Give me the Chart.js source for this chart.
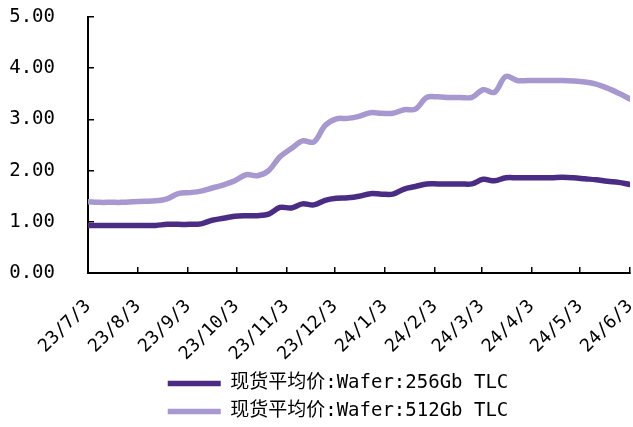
<!DOCTYPE html>
<html>
<head>
<meta charset="utf-8">
<script src="https://cdn.jsdelivr.net/npm/chart.js@4/dist/chart.umd.min.js"></script>
<style>
  body { margin: 0; background: #fff; }
</style>
</head>
<body>
<canvas id="waferChart" width="633" height="427"></canvas>
<script>
const weekDates = [
  "2023-07-03", "2023-07-10", "2023-07-17", "2023-07-24", "2023-07-31",
  "2023-08-07", "2023-08-14", "2023-08-21", "2023-08-28", "2023-09-04",
  "2023-09-11", "2023-09-18", "2023-09-25", "2023-10-02", "2023-10-09",
  "2023-10-16", "2023-10-23", "2023-10-30", "2023-11-06", "2023-11-13",
  "2023-11-20", "2023-11-27", "2023-12-04", "2023-12-11", "2023-12-18",
  "2023-12-25", "2024-01-01", "2024-01-08", "2024-01-15", "2024-01-22",
  "2024-01-29", "2024-02-05", "2024-02-12", "2024-02-19", "2024-02-26",
  "2024-03-04", "2024-03-11", "2024-03-18", "2024-03-25", "2024-04-01",
  "2024-04-08", "2024-04-15", "2024-04-22", "2024-04-29", "2024-05-06",
  "2024-05-13", "2024-05-20", "2024-05-27", "2024-06-03",
];

const wafer256 = [
  0.93, 0.93, 0.93, 0.93, 0.93, 0.93, 0.93, 0.95, 0.95, 0.95,
  0.96, 1.03, 1.07, 1.11, 1.12, 1.12, 1.15, 1.28, 1.27, 1.35,
  1.33, 1.42, 1.46, 1.47, 1.50, 1.55, 1.54, 1.54, 1.64, 1.69,
  1.74, 1.74, 1.74, 1.74, 1.74, 1.83, 1.80, 1.86, 1.86, 1.86,
  1.86, 1.86, 1.87, 1.86, 1.84, 1.82, 1.79, 1.77, 1.73,
];

const wafer512 = [
  1.39, 1.38, 1.38, 1.38, 1.39, 1.40, 1.41, 1.45, 1.55, 1.57,
  1.60, 1.66, 1.72, 1.80, 1.92, 1.90, 2.00, 2.27, 2.43, 2.58,
  2.56, 2.88, 3.01, 3.02, 3.06, 3.13, 3.12, 3.12, 3.19, 3.20,
  3.43, 3.44, 3.43, 3.43, 3.43, 3.58, 3.53, 3.84, 3.76, 3.76,
  3.76, 3.76, 3.76, 3.75, 3.73, 3.69, 3.61, 3.51, 3.40,
];

const tickDates = [
  "2023-07-03", "2023-08-03", "2023-09-03", "2023-10-03", "2023-11-03", "2023-12-03",
  "2024-01-03", "2024-02-03", "2024-03-03", "2024-04-03", "2024-05-03", "2024-06-03",
];
const tickLabels = [
  "23/7/3", "23/8/3", "23/9/3", "23/10/3", "23/11/3", "23/12/3",
  "24/1/3", "24/2/3", "24/3/3", "24/4/3", "24/5/3", "24/6/3",
];

const seriesNames = ["现货平均价:Wafer:256Gb TLC", "现货平均价:Wafer:512Gb TLC"];

const DAY = 86400000;
const start = Date.parse(weekDates[0]);
const toDay = (d) => Math.round((Date.parse(d) - start) / DAY);
const tickDays = tickDates.map(toDay);

const monoFont = "'DejaVu Sans Mono', 'Noto Sans CJK SC', monospace";

// the legend in the original sits a bit right of the canvas centre
const shiftLegend = {
  id: "shiftLegend",
  afterLayout(chart) {
    chart.legend.left += 46;
  },
};

new Chart(document.getElementById("waferChart"), {
  type: "line",
  data: {
    datasets: [
      {
        label: seriesNames[0],
        data: weekDates.map((d, i) => ({ x: toDay(d), y: wafer256[i] })),
        borderColor: "#4b2c85",
        backgroundColor: "#4b2c85",
        borderWidth: 5.5,
        borderCapStyle: "round",
        borderJoinStyle: "round",
        pointRadius: 0,
        tension: 0.35,
      },
      {
        label: seriesNames[1],
        data: weekDates.map((d, i) => ({ x: toDay(d), y: wafer512[i] })),
        borderColor: "#a898d0",
        backgroundColor: "#a898d0",
        borderWidth: 5.5,
        borderCapStyle: "round",
        borderJoinStyle: "round",
        pointRadius: 0,
        tension: 0.35,
      },
    ],
  },
  options: {
    responsive: false,
    animation: false,
    layout: {
      padding: { top: 0, right: 3, left: 0, bottom: -4 },
    },
    scales: {
      x: {
        type: "linear",
        min: tickDays[0],
        max: tickDays[tickDays.length - 1],
        afterBuildTicks: (axis) => {
          axis.ticks = tickDays.map((v) => ({ value: v }));
        },
        afterFit: (axis) => {
          axis.height = 92;
          axis.paddingLeft = 0;
          axis.paddingRight = 0;
        },
        grid: {
          drawOnChartArea: false,
          tickLength: -6,
          color: "#000",
          lineWidth: 1.5,
        },
        border: { color: "#000", width: 2 },
        ticks: {
          autoSkip: false,
          minRotation: 45,
          maxRotation: 45,
          padding: 29,
          color: "#000",
          font: { family: monoFont, size: 18 },
          callback: (value) => tickLabels[tickDays.indexOf(value)],
        },
      },
      y: {
        min: 0,
        max: 5,
        afterFit: (axis) => {
          axis.width = 88;
          axis.paddingTop = 17;
          axis.paddingBottom = 0;
        },
        grid: {
          drawOnChartArea: false,
          tickLength: -6,
          color: "#000",
          lineWidth: 1.5,
        },
        border: { color: "#000", width: 2 },
        ticks: {
          stepSize: 1,
          padding: 39,
          color: "#000",
          font: { family: monoFont, size: 19 },
          callback: (value) => value.toFixed(2),
        },
      },
    },
    plugins: {
      legend: {
        position: "bottom",
        labels: {
          usePointStyle: true,
          pointStyle: "line",
          pointStyleWidth: 53,
          boxHeight: 19,
          padding: 9,
          color: "#000",
          font: { family: monoFont, size: 19 },
        },
      },
      tooltip: { enabled: false },
    },
  },
  plugins: [shiftLegend],
});
</script>
</body>
</html>
